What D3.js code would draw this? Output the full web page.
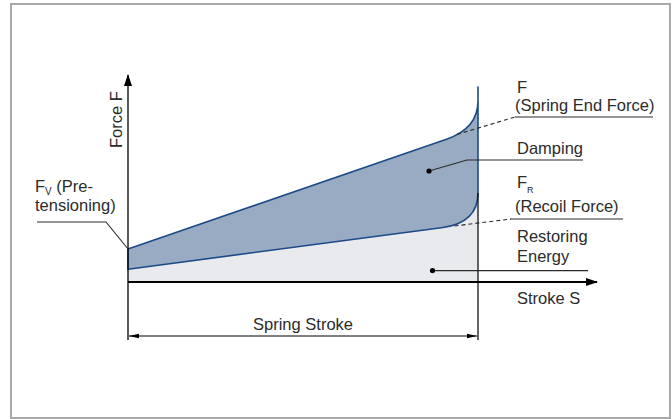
<!DOCTYPE html>
<html>
<head>
<meta charset="utf-8">
<script src="https://cdn.jsdelivr.net/npm/d3@7"></script>
<style>
  body { margin: 0; background: #fff; }
  svg text { font-family: "Liberation Sans", Arial, sans-serif; font-size: 16.5px; fill: #2b2b2b; }
</style>
</head>
<body>
<div id="chart"></div>
<script>
// stroke s (0..100 = full spring stroke), force f (arbitrary units)
// each curve: straight rise, then a knee (start, corner, end), then the top
const springEndLine = [[0, 16.5], [91, 71.4]];
const springEndKnee = [[91, 71.4], [100, 76.8], [100, 90.5]];
const springEndTop = [100, 97.5];
const recoilLine = [[0, 6.4], [89.5, 27.1]];
const recoilKnee = [[89.5, 27.1], [100, 29.4], [100, 44.5]];
const strokeRange = [0, 100];
const forceAxisTop = 103.5;
const strokeAxisEnd = 134;

// annotation anchors in data units
const dampingDot = [86, 55.5];
const restoringDot = [87, 5.7];
const fEndDash = [[94, 73.8], [110.6, 82.5]];
const fRDash = [[93.3, 28], [109.4, 31.5]];

const width = 672, height = 419;

const svg = d3.select("#chart")
  .append("svg")
  .attr("width", width)
  .attr("height", height);

const x = d3.scaleLinear().domain(strokeRange).range([128, 478]);
const y = d3.scaleLinear().domain([0, 100]).range([282, 82]);

// outer frame
svg.append("rect")
  .attr("x", 11).attr("y", 4)
  .attr("width", 659).attr("height", 414)
  .attr("fill", "none")
  .attr("stroke", "#a9a9a9")
  .attr("stroke-width", 2);

// curve helpers on a d3.path
const px = d => [x(d[0]), y(d[1])];
function traceForward(p, lineData, knee) {
  const a = px(lineData[0]), b = px(lineData[1]);
  p.lineTo(a[0], a[1]);
  p.lineTo(b[0], b[1]);
  const c = px(knee[1]), e = px(knee[2]);
  p.quadraticCurveTo(c[0], c[1], e[0], e[1]);
}
function traceBack(p, lineData, knee) {
  const e = px(knee[2]), c = px(knee[1]), k = px(knee[0]), a = px(lineData[0]);
  p.lineTo(e[0], e[1]);
  p.quadraticCurveTo(c[0], c[1], k[0], k[1]);
  p.lineTo(a[0], a[1]);
}

// restoring energy area (below recoil curve)
const restore = d3.path();
restore.moveTo(x(0), y(0));
traceForward(restore, recoilLine, recoilKnee);
restore.lineTo(x(100), y(0));
restore.closePath();
svg.append("path")
  .attr("d", restore.toString())
  .attr("fill", "#e9eaee");

// damping area between the two curves
const damp = d3.path();
const startPt = px(springEndLine[0]);
damp.moveTo(startPt[0], startPt[1]);
traceForward(damp, springEndLine, springEndKnee);
const topPt = px(springEndTop);
damp.lineTo(topPt[0], topPt[1]);
traceBack(damp, recoilLine, recoilKnee);
damp.closePath();
svg.append("path")
  .attr("d", damp.toString())
  .attr("fill", "#98abc3")
  .attr("stroke", "#1c4a87")
  .attr("stroke-width", 1.6)
  .attr("stroke-linejoin", "round");

// arrow markers
const defs = svg.append("defs");
defs.append("marker")
  .attr("id", "axisArrow")
  .attr("viewBox", "0 0 12 8")
  .attr("refX", 11).attr("refY", 4)
  .attr("markerWidth", 12).attr("markerHeight", 8)
  .attr("markerUnits", "userSpaceOnUse")
  .attr("orient", "auto")
  .append("path").attr("d", "M0,0L12,4L0,8Z").attr("fill", "#000");
defs.append("marker")
  .attr("id", "dimArrow")
  .attr("viewBox", "0 0 10 6")
  .attr("refX", 10).attr("refY", 3)
  .attr("markerWidth", 10).attr("markerHeight", 6)
  .attr("markerUnits", "userSpaceOnUse")
  .attr("orient", "auto-start-reverse")
  .append("path").attr("d", "M0,0.8L10,3L0,5.2Z").attr("fill", "#000");

// force axis
svg.append("line")
  .attr("x1", x(0)).attr("x2", x(0))
  .attr("y1", 340).attr("y2", y(forceAxisTop))
  .attr("stroke", "#000").attr("stroke-width", 1.3)
  .attr("marker-end", "url(#axisArrow)");

// stroke axis
svg.append("line")
  .attr("x1", x(0)).attr("x2", x(strokeAxisEnd))
  .attr("y1", y(0)).attr("y2", y(0))
  .attr("stroke", "#000").attr("stroke-width", 2)
  .attr("marker-end", "url(#axisArrow)");

// end-of-stroke line
svg.append("line")
  .attr("x1", x(100)).attr("x2", x(100))
  .attr("y1", y(recoilKnee[2][1])).attr("y2", 340)
  .attr("stroke", "#000").attr("stroke-width", 1.2);

// spring stroke dimension
svg.append("line")
  .attr("x1", x(0) + 1).attr("x2", x(100) - 1)
  .attr("y1", 336).attr("y2", 336)
  .attr("stroke", "#000").attr("stroke-width", 1)
  .attr("marker-start", "url(#dimArrow)")
  .attr("marker-end", "url(#dimArrow)");

svg.append("text")
  .attr("x", (x(0) + x(100)) / 2).attr("y", 330)
  .attr("text-anchor", "middle")
  .text("Spring Stroke");

svg.append("text")
  .attr("x", 517).attr("y", 304)
  .text("Stroke S");

svg.append("text")
  .attr("transform", "translate(122,148) rotate(-90)")
  .text("Force F");

// leaders
const ink = "#2b2b2b";
const leader = (pts, dash) => svg.append("path")
  .attr("d", d3.line()(pts))
  .attr("fill", "none")
  .attr("stroke", ink)
  .attr("stroke-width", 1.1)
  .attr("stroke-dasharray", dash || null);

// F_V pretensioning
leader([[37, 222], [106, 222], px(springEndLine[0])]);
const fv = svg.append("text").attr("x", 35).attr("y", 192);
fv.append("tspan").text("F");
fv.append("tspan").attr("font-size", 10).attr("dy", 3).text("V");
fv.append("tspan").attr("dy", -3).text(" (Pre-");
svg.append("text").attr("x", 35).attr("y", 211).text("tensioning)");

// F spring end force
leader(fEndDash.map(px), "4,3");
leader([[515, 117], [653, 117]]);
svg.append("text").attr("x", 517).attr("y", 93).text("F");
svg.append("text").attr("x", 515).attr("y", 111).text("(Spring End Force)");

// damping
leader([px(dampingDot), [467, 160], [583, 160]]);
svg.append("circle")
  .attr("cx", x(dampingDot[0])).attr("cy", y(dampingDot[1]))
  .attr("r", 2.6).attr("fill", "#000");
svg.append("text").attr("x", 517).attr("y", 154).text("Damping");

// F_R recoil force
leader(fRDash.map(px), "4,3");
leader([[510, 219], [623, 219]]);
const fr = svg.append("text").attr("x", 517).attr("y", 188);
fr.append("tspan").text("F");
fr.append("tspan").attr("font-size", 9).attr("dy", 5).text("R");
svg.append("text").attr("x", 515).attr("y", 212).text("(Recoil Force)");

// restoring energy
leader([px(restoringDot), [588, y(restoringDot[1])]]);
svg.append("circle")
  .attr("cx", x(restoringDot[0])).attr("cy", y(restoringDot[1]))
  .attr("r", 2.6).attr("fill", "#000");
svg.append("text").attr("x", 517).attr("y", 242).text("Restoring");
svg.append("text").attr("x", 517).attr("y", 262).text("Energy");
</script>
</body>
</html>
